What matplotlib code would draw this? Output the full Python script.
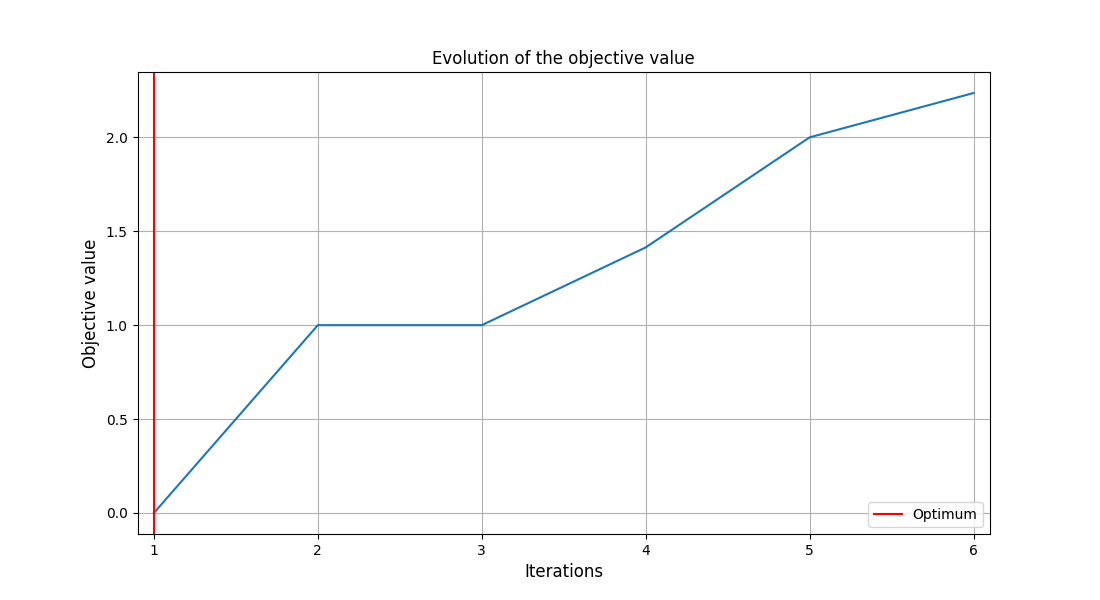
import matplotlib
matplotlib.use("Agg")
import matplotlib.pyplot as plt

iterations = [1, 2, 3, 4, 5, 6]
objective = [0.0, 1.0, 1.0, 1.414, 2.0, 2.236]
optimum_iter = 1

fig, ax = plt.subplots(figsize=(11, 6), dpi=100)
ax.plot(iterations, objective, color="#1f77b4")
ax.axvline(optimum_iter, color="red", label="Optimum")
ax.set_xlim(0.9, 6.1)
ax.set_title("Evolution of the objective value")
ax.set_xlabel("Iterations", fontsize=12)
ax.set_ylabel("Objective value", fontsize=12)
ax.grid(True)
ax.legend(loc="lower right")
fig.savefig("out.png")
